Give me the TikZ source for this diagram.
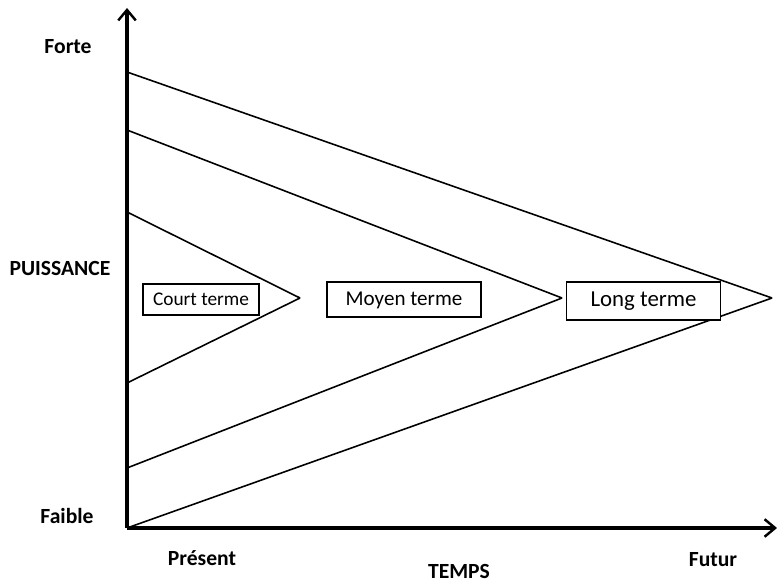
\documentclass[tikz,border=0pt]{standalone}
\usepackage{fontspec}
\setmainfont{Carlito}
\usetikzlibrary{arrows.meta}

\begin{document}
\begin{tikzpicture}[x=0.02cm, y=-0.02cm,
    axis/.style={line width=2pt, -{Straight Barb[length=6pt, width=10pt, line width=1.4pt]}},
    edge/.style={line width=0.9pt},
    lbl/.style={font=\bfseries\fontsize{12.3}{14}\selectfont},
    termbox/.style={draw, line width=0.9pt, fill=white, inner sep=0pt, text height=0.64em, text depth=0pt}]
   \useasboundingbox (0,0) rectangle (777,581);

   \coordinate (O) at (127,528);
   \coordinate (Ytop) at (127,8);
   \coordinate (Xend) at (777,528);

   % outer, middle, inner triangles
   \coordinate (L1) at (127,72);
   \coordinate (L2) at (772,298);
   \coordinate (M1) at (127,130);
   \coordinate (M2) at (562,298);
   \coordinate (M3) at (127,468);
   \coordinate (C1) at (127,212);
   \coordinate (C2) at (300,298);
   \coordinate (C3) at (127,383);

   \draw[edge] (L1) -- (L2);
   \draw[edge] (L2) -- (O);
   \draw[edge] (M1) -- (M2);
   \draw[edge] (M2) -- (M3);
   \draw[edge] (C1) -- (C2);
   \draw[edge] (C2) -- (C3);

   \draw[axis] (O) -- (Ytop);
   \draw[axis] (O) -- (Xend);

   \node[termbox, minimum width=2.32cm, minimum height=0.62cm, font=\fontsize{11}{13}\selectfont] (court) at (201,299.5) {Court terme};
   \node[termbox, minimum width=3.08cm, minimum height=0.70cm, font=\fontsize{12}{14}\selectfont] (moyen) at (404,299.5) {Moyen terme};
   \node[termbox, minimum width=3.08cm, minimum height=0.76cm, font=\fontsize{13}{15}\selectfont] (long) at (643.5,301) {Long terme};

   \node[lbl] (forte) at (68,47) {Forte};
   \node[lbl] (puissance) at (60,268) {PUISSANCE};
   \node[lbl] (faible) at (67,516) {Faible};
   \node[lbl] (present) at (202,558) {Présent};
   \node[lbl] (futur) at (713,560) {Futur};
   \node[lbl] (temps) at (459,571) {TEMPS};
\end{tikzpicture}
\end{document}
